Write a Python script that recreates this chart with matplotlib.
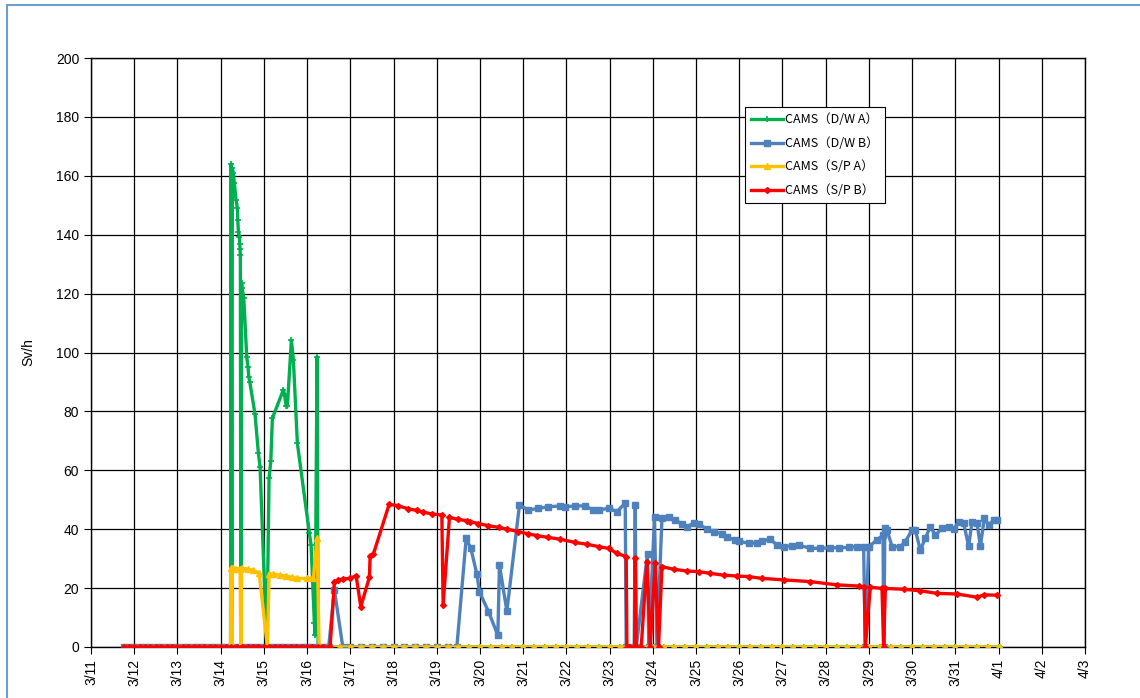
import matplotlib
matplotlib.use("Agg")
import matplotlib.pyplot as plt
from matplotlib.patches import Rectangle

# ---------------- data (x = days since 3/11 00:00) ----------------
day_labels = ["3/11", "3/12", "3/13", "3/14", "3/15", "3/16", "3/17", "3/18", "3/19",
              "3/20", "3/21", "3/22", "3/23", "3/24", "3/25", "3/26", "3/27", "3/28",
              "3/29", "3/30", "3/31", "4/1", "4/2", "4/3"]
y_ticks = [0, 20, 40, 60, 80, 100, 120, 140, 160, 180, 200]

# sampling times of the long zero readings
t_early = [0.76, 0.875, 1.0, 1.125, 1.25, 1.375, 1.5, 1.625, 1.75, 1.875, 2.0,
           2.125, 2.25, 2.375, 2.5, 2.625, 2.75, 2.875, 3.0, 3.125]
t_mid = [3.25, 3.375, 3.5, 3.625, 3.75, 3.875, 4.0, 4.125, 4.25, 4.375, 4.5,
         4.625, 4.75, 4.875, 5.0, 5.125, 5.25, 5.375, 5.5]
t_late = [5.5, 5.75, 6.0, 6.25, 6.5, 6.75, 7.0, 7.25, 7.5, 7.75, 8.0, 8.25, 8.5,
          8.75, 9.0, 9.25, 9.5, 9.75, 10.0, 10.25, 10.5, 10.75, 11.0, 11.25, 11.5,
          11.75, 12.0, 12.25, 12.5, 12.75, 13.0, 13.25, 13.5, 13.75, 14.0, 14.25,
          14.5, 14.75, 15.0, 15.25, 15.5, 15.75, 16.0, 16.25, 16.5, 16.75, 17.0,
          17.25, 17.5, 17.75, 18.0, 18.25, 18.5, 18.75, 19.0, 19.25, 19.5, 19.75,
          20.0, 20.25, 20.5, 20.75, 21.0, 21.04]
t_gap_b = [6.0, 6.25, 6.5, 6.75, 7.0, 7.25, 7.5, 7.75, 8.0, 8.25, 8.465]

# CAMS (D/W A)
dwa_t = [3.229, 3.241, 3.259, 3.271, 3.294, 3.317, 3.356, 3.387, 3.396, 3.410,
         3.433, 3.442, 3.449, 3.456, 3.468, 3.484, 3.495, 3.535, 3.604, 3.634,
         3.650, 3.674, 3.796, 3.873, 3.912, 4.067, 4.120, 4.160, 4.197, 4.451,
         4.475, 4.514, 4.544, 4.637, 4.683, 4.775, 5.053, 5.093, 5.169, 5.185,
         5.231, 5.255]
dwa_v = [0, 164, 0, 162.5, 160.8, 157.4, 151.8, 149, 145, 141,
         139.3, 137, 135, 133, 0, 123.5, 122, 118.4, 98.4, 95,
         91.8, 90, 79, 65.8, 61.2, 0, 57.3, 63, 77.7, 87.3,
         86, 82, 81.8, 104.2, 97.5, 69.2, 38.6, 34.6, 8, 4,
         98.6, 0]

# CAMS (S/P A)
spa_t = [3.229, 3.241, 3.259, 3.271, 3.294, 3.356, 3.449, 3.468, 3.484, 3.634,
         3.750, 3.889, 4.083, 4.120, 4.220, 4.375, 4.514, 4.646, 4.762, 4.993,
         5.146, 5.231, 5.278]
spa_v = [0, 26.7, 0, 26.7, 26.7, 26.6, 26.5, 0, 26.8, 26.4,
         26.1, 25.2, 0, 24.8, 24.8, 24.3, 24.1, 23.7, 23.3, 23.3,
         23.5, 36.9, 0]

# CAMS (D/W B)
dwb_t = [5.632, 5.826,
         8.681, 8.789, 8.928, 8.988, 9.197, 9.414, 9.451, 9.623, 9.914, 10.123,
         10.354, 10.586, 10.856, 10.972, 11.204, 11.435, 11.627, 11.743, 11.975,
         12.169, 12.361, 12.384, 12.569, 12.593, 12.616, 12.877, 12.905, 13.039,
         13.095, 13.211, 13.363, 13.519, 13.674, 13.789, 13.942, 14.058, 14.252,
         14.405, 14.600, 14.715, 14.907, 14.984, 15.215, 15.410, 15.525, 15.718,
         15.873, 16.025, 16.220, 16.373, 16.644, 16.875, 17.106, 17.299, 17.530,
         17.725, 17.877, 17.917, 17.993, 18.188, 18.326, 18.345, 18.368, 18.419,
         18.535, 18.727, 18.843, 18.998, 19.074, 19.190, 19.306, 19.421, 19.537,
         19.692, 19.845, 19.961, 20.076, 20.192, 20.308, 20.387, 20.502, 20.579,
         20.671, 20.771, 20.887, 20.965]
dwb_v = [19.4, 0,
         36.9, 33.5, 24.8, 18.8, 12, 4, 27.8, 12.2, 48.2, 46.5,
         47.1, 47.6, 47.9, 47.6, 47.9, 47.9, 46.5, 46.5, 47.1,
         46, 48.8, 0, 0, 48.2, 0, 31.6, 0, 44,
         0, 43.7, 44.3, 43.1, 41.8, 40.9, 42, 41.8, 40,
         39.2, 38.4, 37.3, 36.3, 36, 35.2, 35.4, 36, 36.6,
         34.6, 34.1, 34.3, 34.6, 33.5, 33.5, 33.7, 33.7, 33.8,
         34.1, 34.1, 0, 34.1, 36.3, 38, 0, 40.3, 39.7,
         34.1, 34.1, 35.8, 39.7, 39.7, 32.9, 36.9, 40.9, 38,
         40.3, 40.9, 40, 42.6, 42, 34.3, 42.6, 42, 34.3,
         43.7, 41.4, 43.1, 43.1]

# CAMS (S/P B)
spb_t = [5.532, 5.632, 5.725, 5.840, 5.995, 6.134, 6.243, 6.442, 6.458, 6.535,
         6.898, 7.100, 7.345, 7.539, 7.678, 7.887, 8.118, 8.148, 8.294, 8.502,
         8.697, 8.773, 8.965, 9.197, 9.444, 9.623, 9.891, 10.123, 10.331, 10.586,
         10.856, 11.204, 11.475, 11.743, 11.975, 12.169, 12.384, 12.400, 12.477,
         12.581, 12.593, 12.616, 12.731, 12.863, 12.940, 13.056, 13.132, 13.211,
         13.479, 13.789, 14.058, 14.329, 14.637, 14.947, 15.215, 15.525, 16.025,
         16.644, 17.262, 17.762, 17.894, 17.917, 18.032, 18.303, 18.340, 18.380,
         18.803, 19.190, 19.576, 20.039, 20.502, 20.655, 20.965]
spb_v = [0, 22, 22.8, 23.1, 23.3, 24.2, 13.7, 23.7, 30.9, 31.6,
         48.4, 48, 46.9, 46.4, 45.8, 45.2, 44.8, 14.3, 44, 43.3,
         42.9, 42.6, 41.9, 41.2, 40.6, 40, 39.2, 38.4, 37.8, 37.2,
         36.6, 35.5, 34.9, 34.1, 33.5, 31.8, 30.7, 0, 0,
         0, 30.1, 0, 0, 29, 0, 28.4, 0, 27.3,
         26.4, 25.8, 25.6, 25, 24.4, 24.1, 23.9, 23.3, 22.8,
         22.2, 21.1, 20.7, 20.5, 0, 20.3, 19.9, 0, 19.9,
         19.6, 19.1, 18.2, 18, 16.9, 17.7, 17.6]

series_names = ["CAMS（D/W A）", "CAMS（D/W B）", "CAMS（S/P A）", "CAMS（S/P B）"]
series_colors = ["#00B050", "#4F81BD", "#FFC000", "#FF0000"]

# assemble full series (zero readings + read values)
g_t = t_early + dwa_t + t_late[1:]
g_v = [0] * len(t_early) + dwa_v + [0] * len(t_late[1:])
y_t = t_early + spa_t + t_late[1:]
y_v = [0] * len(t_early) + spa_v + [0] * len(t_late[1:])
b_t = t_early + t_mid + dwb_t[:2] + t_gap_b + dwb_t[2:]
b_v = [0] * (len(t_early) + len(t_mid)) + dwb_v[:2] + [0] * len(t_gap_b) + dwb_v[2:]
r_t = t_early + t_mid + spb_t
r_v = [0] * (len(t_early) + len(t_mid)) + spb_v

# ---------------- figure ----------------
plt.rcParams['font.family'] = ['Liberation Sans', 'DejaVu Sans']
fig = plt.figure(figsize=(11.4, 6.98), dpi=100)
fig.patches.append(Rectangle((7 / 1140, -0.01), 1.02, 1 - 5 / 698 + 0.01,
                             transform=fig.transFigure, fill=False,
                             edgecolor="#6C9BD2", linewidth=1.5))
ax = fig.add_axes([91 / 1140, 1 - 647 / 698, (1085 - 91) / 1140, (647 - 58) / 698])

ax.plot(g_t, g_v, color=series_colors[0], lw=2.4, marker='+', ms=4, mew=1.2,
        label=series_names[0], zorder=3)
ax.plot(b_t, b_v, color=series_colors[1], lw=2.4, marker='s', ms=4,
        label=series_names[1], zorder=4)
ax.plot(y_t, y_v, color=series_colors[2], lw=2.4, marker='^', ms=4,
        label=series_names[2], zorder=5)
ax.plot(r_t, r_v, color=series_colors[3], lw=2.4, marker='D', ms=3,
        label=series_names[3], zorder=6)

ax.set_xlim(0, 23)
ax.set_ylim(0, 200)
ax.set_xticks(range(len(day_labels)))
ax.set_xticklabels(day_labels, rotation=90, fontsize=10)
ax.set_yticks(y_ticks)
ax.set_yticklabels([str(v) for v in y_ticks], fontsize=10)
ax.tick_params(direction='out', length=5, width=0.8, color='black')
ax.grid(True, color='black', lw=0.9)
ax.set_axisbelow(True)
for s in ax.spines.values():
    s.set_color('black')
    s.set_linewidth(1.0)
ax.set_ylabel("Sv/h", fontsize=10, labelpad=15)

leg = ax.legend(loc='upper left', bbox_to_anchor=((745 - 91) / 994, (647 - 107) / 589),
                prop={'family': ['Noto Sans CJK JP', 'DejaVu Sans'], 'size': 9},
                frameon=True, fancybox=False, edgecolor='black', framealpha=1,
                handlelength=2.5, handletextpad=0.2, labelspacing=0.85,
                borderpad=0.5, borderaxespad=0)
leg.get_frame().set_linewidth(0.8)

fig.savefig("out.png", dpi=100)
